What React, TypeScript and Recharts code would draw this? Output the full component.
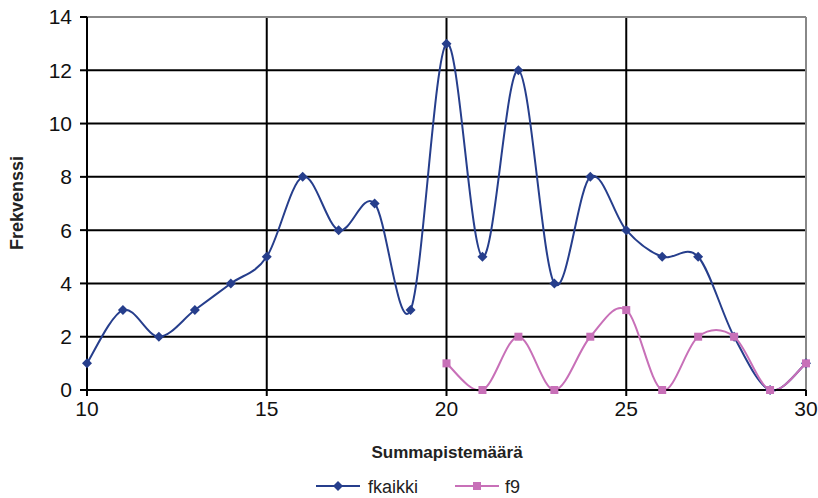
import { LineChart, Line, XAxis, YAxis, CartesianGrid, ReferenceLine, Legend, Label } from "recharts";

const pisteet = [10, 11, 12, 13, 14, 15, 16, 17, 18, 19, 20, 21, 22, 23, 24, 25, 26, 27, 28, 29, 30];
const fkaikki = [1, 3, 2, 3, 4, 5, 8, 6, 7, 3, 13, 5, 12, 4, 8, 6, 5, 5, 2, 0, 1];
// f9 alkaa vasta pisteestä 20
const f9 = [null, null, null, null, null, null, null, null, null, null, 1, 0, 2, 0, 2, 3, 0, 2, 2, 0, 1];
const xTicks = [10, 15, 20, 25, 30];
const yTicks = [0, 2, 4, 6, 8, 10, 12, 14];

const BLUE = "#263E8C";
const PINK = "#C870B8";
const FONT = "'Liberation Sans', Arial, sans-serif";

const data = pisteet.map((x, i) => ({ x, fkaikki: fkaikki[i], f9: f9[i] }));

// Excel-tyylinen pehmennys (Catmull-Rom bezier)
const excelSmooth = (ctx: any) => {
  let pts: number[][] = [];
  return {
    areaStart() {},
    areaEnd() {},
    lineStart() {
      pts = [];
    },
    point(x: number, y: number) {
      pts.push([+x, +y]);
    },
    lineEnd() {
      if (!pts.length) return;
      ctx.moveTo(pts[0][0], pts[0][1]);
      for (let i = 0; i < pts.length - 1; i++) {
        const p0 = pts[i - 1] || pts[i];
        const p1 = pts[i];
        const p2 = pts[i + 1];
        const p3 = pts[i + 2] || p2;
        ctx.bezierCurveTo(
          p1[0] + (p2[0] - p0[0]) / 6,
          p1[1] + (p2[1] - p0[1]) / 6,
          p2[0] - (p3[0] - p1[0]) / 6,
          p2[1] - (p3[1] - p1[1]) / 6,
          p2[0],
          p2[1]
        );
      }
    },
  };
};

const Diamond = (props: any) => {
  const { cx, cy, index } = props;
  if (cx == null || cy == null) return <g key={index} />;
  return <path key={index} d={`M${cx},${cy - 5}L${cx + 5},${cy}L${cx},${cy + 5}L${cx - 5},${cy}Z`} fill={BLUE} />;
};

const Square = (props: any) => {
  const { cx, cy, index, value } = props;
  if (cx == null || cy == null || value == null) return <g key={index} />;
  return <rect key={index} x={cx - 4} y={cy - 4} width={8} height={8} fill={PINK} />;
};

const LegendContent = () => (
  <svg width={818} height={24} style={{ display: "block" }}>
    <line x1={316} y1={12} x2={360} y2={12} stroke={BLUE} strokeWidth={2} />
    <path d="M338,7L343,12L338,17L333,12Z" fill={BLUE} />
    <text x={368} y={19} fontFamily={FONT} fontSize={18} fill="#222">fkaikki</text>
    <line x1={455} y1={12} x2={499} y2={12} stroke={PINK} strokeWidth={2} />
    <rect x={473} y={8} width={8} height={8} fill={PINK} />
    <text x={505} y={19} fontFamily={FONT} fontSize={18} fill="#222">f9</text>
  </svg>
);

export default function App() {
  return (
    <div style={{ position: "absolute", left: 0, top: 0, width: 818, height: 498, background: "#fff" }}>
      <LineChart width={818} height={498} data={data} margin={{ top: 17, right: 12, bottom: 34, left: 0 }}>
        <CartesianGrid stroke="#000" strokeWidth={2} />
        <XAxis
          dataKey="x"
          type="number"
          domain={[10, 30]}
          ticks={xTicks}
          height={50}
          tickSize={6}
          tickMargin={5}
          axisLine={{ stroke: "#000", strokeWidth: 2 }}
          tickLine={{ stroke: "#000", strokeWidth: 2 }}
          tick={{ fill: "#111", fontSize: 21, fontFamily: FONT }}
        >
          <Label
            content={() => (
              <text x={447} y={458} textAnchor="middle" fontFamily={FONT} fontSize={17} fontWeight="bold" fill="#222">
                Summapistemäärä
              </text>
            )}
          />
        </XAxis>
        <YAxis
          type="number"
          domain={[0, 14]}
          ticks={yTicks}
          width={87}
          tickSize={7}
          tickMargin={8}
          axisLine={{ stroke: "#000", strokeWidth: 2 }}
          tickLine={{ stroke: "#000", strokeWidth: 2 }}
          tick={{ fill: "#111", fontSize: 21, fontFamily: FONT }}
        >
          <Label
            content={() => (
              <text
                x={23}
                y={203}
                transform="rotate(-90 23 203)"
                textAnchor="middle"
                fontFamily={FONT}
                fontSize={18}
                fontWeight="bold"
                fill="#222"
              >
                Frekvenssi
              </text>
            )}
          />
        </YAxis>
        <ReferenceLine y={14} stroke="#888" strokeWidth={2} />
        <ReferenceLine x={30} stroke="#888" strokeWidth={2} />
        <Line
          dataKey="fkaikki"
          type={excelSmooth as any}
          stroke={BLUE}
          strokeWidth={2}
          dot={<Diamond />}
          activeDot={false}
          isAnimationActive={false}
        />
        <Line
          dataKey="f9"
          type={excelSmooth as any}
          stroke={PINK}
          strokeWidth={2}
          dot={<Square />}
          activeDot={false}
          connectNulls={false}
          isAnimationActive={false}
        />
        <Legend
          content={() => <LegendContent />}
          wrapperStyle={{ position: "absolute", left: 0, top: 474, width: 818 }}
        />
      </LineChart>
    </div>
  );
}
